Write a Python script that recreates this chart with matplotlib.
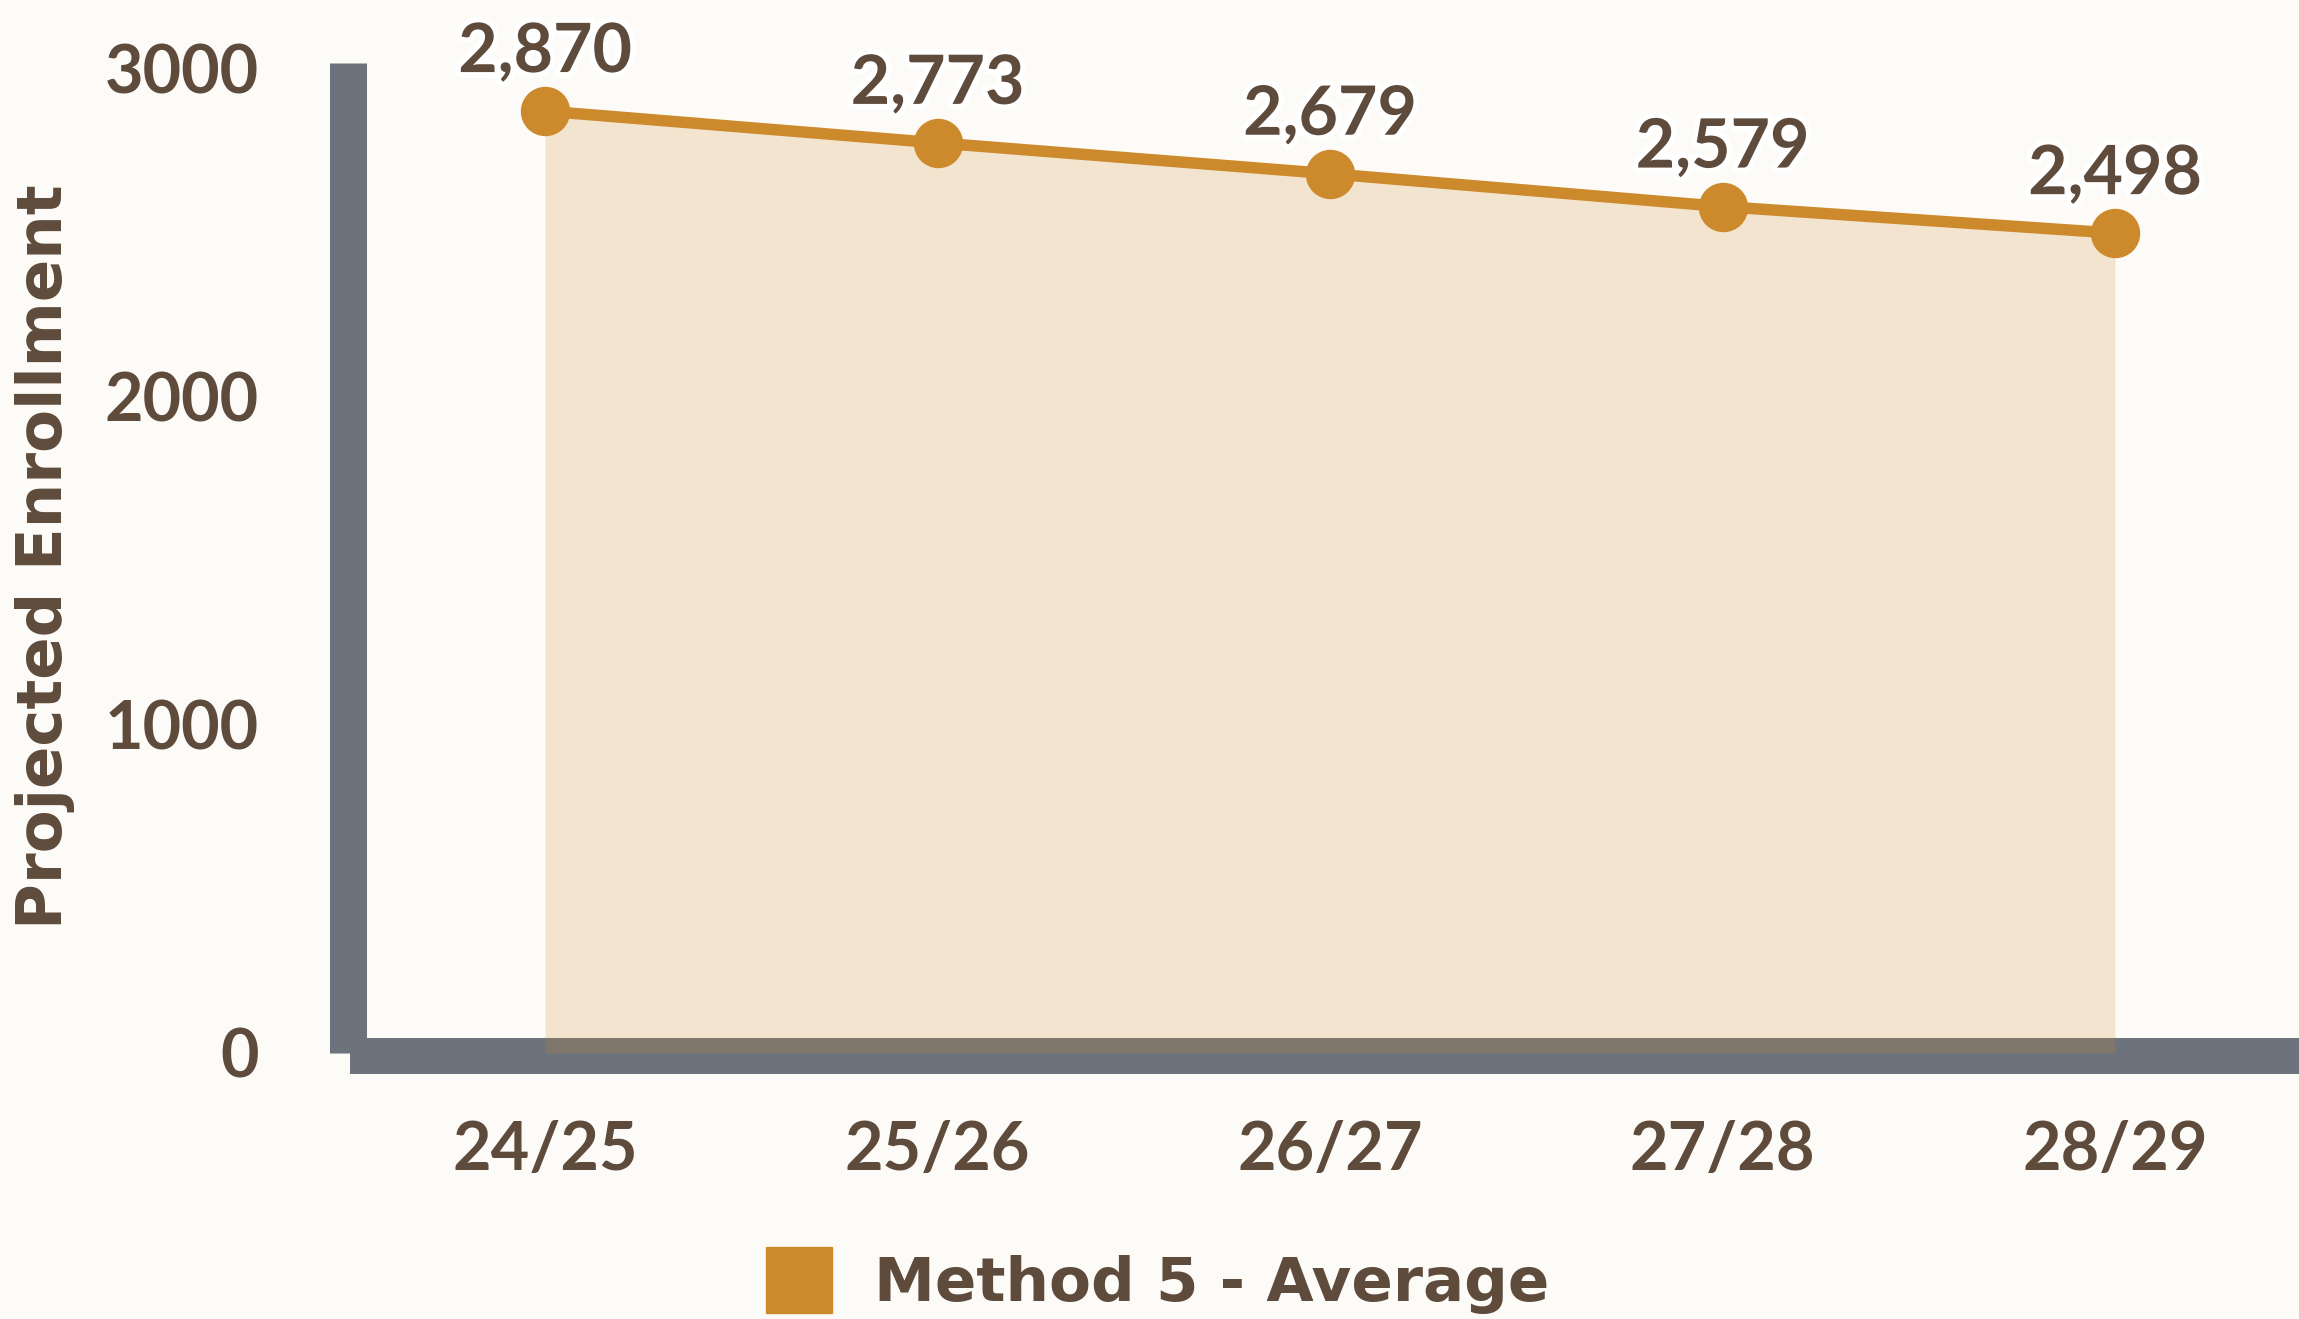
import matplotlib.pyplot as plt
import matplotlib.patheffects as pe
from matplotlib.lines import Line2D

# данные
years = ['24/25', '25/26', '26/27', '27/28', '28/29']
enrollment = [2870, 2773, 2679, 2579, 2498]
y_ticks = [0, 1000, 2000, 3000]
series_name = 'Method 5 - Average'

BG = '#FCFBF7'
TEXT = '#5E4B3C'
ORANGE = '#CD8A2C'
SPINE = '#6C737D'
PX = 72 / 100  # пиксели -> пункты при dpi=100
WIDE = ['DejaVu Sans']  # более широкий шрифт для слов

plt.rcParams['font.family'] = ['Lato', 'DejaVu Sans']
plt.rcParams['font.weight'] = 'bold'

fig = plt.figure(figsize=(22.99, 13.19), dpi=100, facecolor=BG)
# оси: левая граница по центру левой линии, низ = y 0
ax = fig.add_axes([347.5 / 2299, (1319 - 1053) / 1319, (2299 - 347.5) / 2299, (1053 - 63) / 1319])
ax.set_facecolor(BG)

x = list(range(len(years)))
ax.fill_between(x, enrollment, 0, color=ORANGE, alpha=0.2, linewidth=0, zorder=3)
ax.plot(x, enrollment, color=ORANGE, linewidth=11.5 * PX, marker='o', markersize=48 * PX,
        zorder=4, clip_on=False)

# подписи значений с белой обводкой
for xi, v in zip(x, enrollment):
    ax.annotate(f'{v:,}', (xi, v), xytext=(0, 39 * PX), textcoords='offset points',
                ha='center', va='baseline', fontsize=49, color=TEXT, fontweight='bold',
                path_effects=[pe.withStroke(linewidth=8, foreground='white')], zorder=6)

xmin = -197.5 / 392.5
xmax = xmin + (2299 - 347.5) / 392.5
ax.set_xlim(xmin, xmax)
ax.set_ylim(0, (1053 - 63) / 0.3282)

ax.set_xticks(x)
ax.set_xticklabels(years)
ax.set_yticks(y_ticks)
ax.set_yticklabels([str(t) for t in y_ticks])
ax.tick_params(axis='x', length=0, pad=46, labelsize=48, labelcolor=TEXT)
ax.tick_params(axis='y', length=0, pad=64, labelsize=48, labelcolor=TEXT)

for s in ['top', 'right']:
    ax.spines[s].set_visible(False)
ax.spines['left'].set_linewidth(37 * PX)
ax.spines['left'].set_color(SPINE)
ax.spines['left'].set_capstyle('butt')
ax.spines['bottom'].set_linewidth(36 * PX)
ax.spines['bottom'].set_color(SPINE)
ax.spines['bottom'].set_capstyle('butt')
ax.spines['bottom'].set_position(('outward', 3 * PX))
ax.spines['bottom'].set_bounds(xmin + 2.5 / 392.5, xmax)

fig.text(45 / 2299, (1319 - 557) / 1319, 'Projected Enrollment', rotation=90,
         ha='center', va='center', fontsize=45, color=TEXT, fontweight='bold', family=WIDE)

handle = Line2D([], [], marker='s', markersize=66 * PX, linestyle='none', color=ORANGE)
fig.legend([handle], [series_name], loc='center', bbox_to_anchor=(1158 / 2299, (1319 - 1285) / 1319),
           frameon=False, handlelength=1.05, handletextpad=0.7,
           prop={'family': WIDE, 'weight': 'bold', 'size': 44}, labelcolor=TEXT)

fig.savefig('out.png', dpi=100, facecolor=BG)
